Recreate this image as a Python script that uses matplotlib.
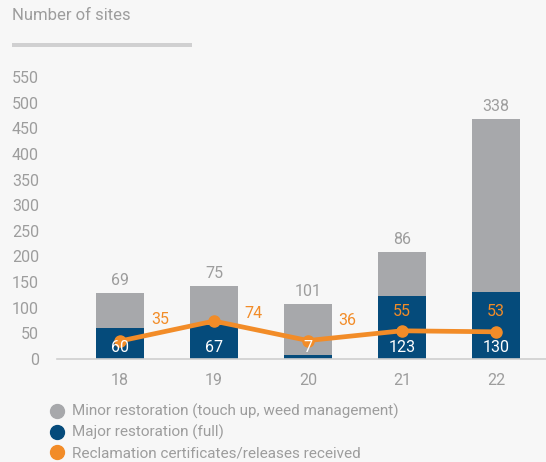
import matplotlib
matplotlib.use("Agg")
import matplotlib.pyplot as plt
from matplotlib.lines import Line2D
import numpy as np

# Data.
years = ["18", "19", "20", "21", "22"]
major_full = [60, 67, 7, 123, 130]
minor_touchup = [69, 75, 101, 86, 338]
reclamation = [35, 74, 36, 55, 53]

y_ticks = [0, 50, 100, 150, 200, 250, 300, 350, 400, 450, 500, 550]
legend_labels = [
    "Minor restoration (touch up, weed management)",
    "Major restoration (full)",
    "Reclamation certificates/releases received",
]

BG = "#f7f7f7"
GREY_BAR = "#a7a8ab"
BLUE = "#054b7b"
ORANGE = "#f28c28"
TEXT = "#9d9d9d"
FS = 11        # legend text
FS_NUM = 11.5  # numbers / ticks

# label offsets (pixels) for the orange line labels, hand-placed as in the original
ORANGE_OFFSETS = [(40, 22), (39, 8), (39, 20), (0, 19), (0, 20)]

plt.rcParams["font.family"] = ["Roboto", "DejaVu Sans"]

fig = plt.figure(figsize=(5.46, 4.62), dpi=100, facecolor=BG)
W, H = 546, 462
# axes box in pixel terms: x 57..546, y 77(top, =550)..359(bottom, =0)
ax = fig.add_axes([57 / W, 1 - 359 / H, (546 - 57) / W, (359 - 77) / H])
ax.set_facecolor(BG)

x = np.arange(len(years))
bw = 0.51
ax.bar(x, major_full, width=bw, color=BLUE, zorder=2)
ax.bar(x, minor_touchup, width=bw, bottom=major_full, color=GREY_BAR, zorder=2)
ax.plot(x, reclamation, color=ORANGE, lw=3.4, marker="o", ms=8,
        solid_capstyle="round", zorder=4)

for i in range(len(years)):
    top = major_full[i] + minor_touchup[i]
    ax.annotate(str(minor_touchup[i]), (x[i], top), xytext=(0, 5),
                textcoords="offset pixels", ha="center", va="bottom",
                color=TEXT, fontsize=FS_NUM, zorder=5)
    ax.annotate(str(major_full[i]), (x[i], 0), xytext=(0, 11),
                textcoords="offset pixels", ha="center", va="center",
                color="white", fontsize=FS_NUM, zorder=5)
    dx, dy = ORANGE_OFFSETS[i]
    ax.annotate(str(reclamation[i]), (x[i], reclamation[i]), xytext=(dx, dy),
                textcoords="offset pixels", ha="center", va="center",
                color=ORANGE, fontsize=FS_NUM, zorder=5)

ax.set_xlim((57 - 120) / 94, (546 - 120) / 94)
ax.set_ylim(0, 550)
ax.set_xticks(x)
ax.set_xticklabels(years)
ax.set_yticks(y_ticks)
ax.tick_params(axis="both", length=0, colors=TEXT, labelsize=FS_NUM)
ax.tick_params(axis="y", pad=13)
ax.tick_params(axis="x", pad=10)
for s in ["top", "right", "left"]:
    ax.spines[s].set_visible(False)
ax.spines["bottom"].set_color("#cfcfcf")
ax.spines["bottom"].set_linewidth(1.2)
ax.spines["bottom"].set_zorder(3)

fig.text(12 / W, 1 - 16 / H, "Number of sites", ha="left", va="center",
         color=TEXT, fontsize=12)
fig.add_artist(plt.Rectangle((12 / W, 1 - 47 / H), 180 / W, 4 / H,
                             transform=fig.transFigure, color="#d0d0d1", lw=0))

handles = [
    Line2D([], [], ls="none", marker="o", ms=10, color=c)
    for c in (GREY_BAR, BLUE, ORANGE)
]
fig.legend(handles, legend_labels, loc="upper left",
           bbox_to_anchor=(50 / W, 1 - 404 / H), frameon=False,
           fontsize=FS, labelcolor=TEXT, handlelength=0.9,
           handletextpad=0.55, labelspacing=0.38, borderaxespad=0,
           borderpad=0)

fig.savefig("out.png", dpi=100, facecolor=BG)
